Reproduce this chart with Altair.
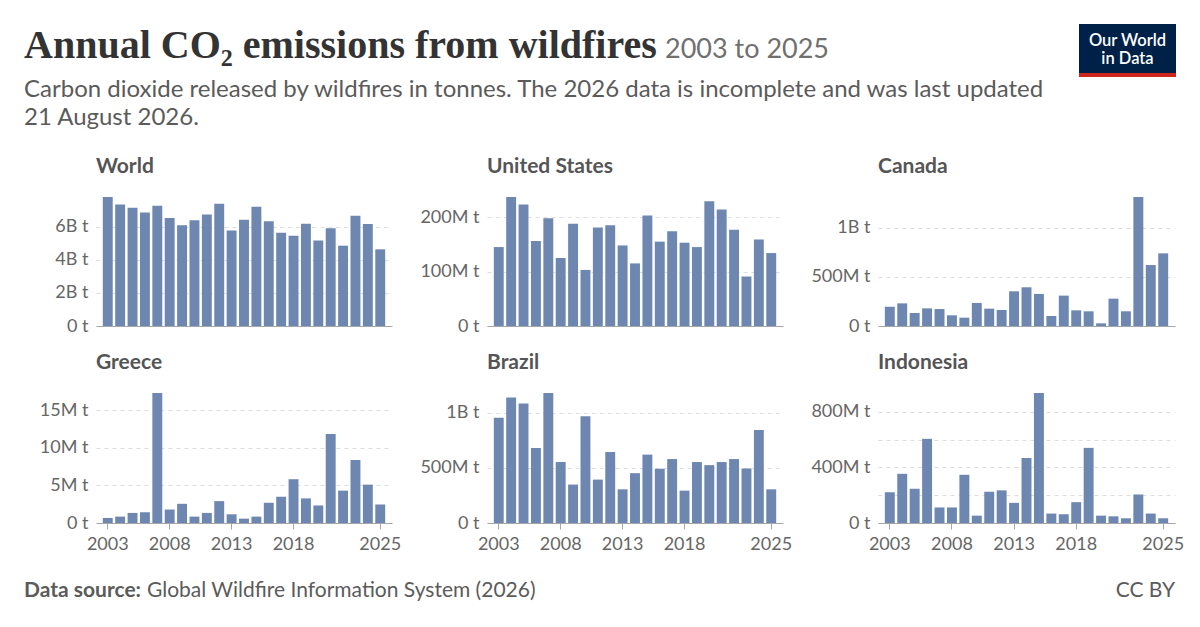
import altair as alt
import pandas as pd

years = list(range(2003, 2026))
tick_years = [2003, 2008, 2013, 2018, 2025]

world_bt = [7.79, 7.34, 7.14, 6.86, 7.26, 6.52, 6.08, 6.38, 6.74, 7.38, 5.77, 6.42,
            7.20, 6.32, 5.63, 5.45, 6.18, 5.17, 5.90, 4.85, 6.66, 6.16, 4.63]
us_mt = [145, 237, 223, 156, 198, 125, 188, 103, 181, 185, 148, 115, 203, 155, 174,
         153, 145, 229, 214, 177, 91, 159, 134]
canada_mt = [197, 231, 133, 180, 173, 109, 85, 235, 177, 163, 354, 395, 327, 102, 310,
             160, 150, 27, 279, 150, 1316, 622, 741]
greece_mt = [0.67, 0.85, 1.34, 1.43, 17.28, 1.79, 2.55, 0.85, 1.34, 2.91, 1.16, 0.58,
             0.85, 2.69, 3.49, 5.82, 3.27, 2.33, 11.82, 4.30, 8.37, 5.10, 2.46]
brazil_mt = [954, 1137, 1082, 680, 1177, 552, 348, 966, 393, 643, 305, 451, 619, 491,
             579, 293, 552, 524, 552, 579, 494, 841, 305]
indonesia_mt = [221, 354, 247, 606, 112, 112, 347, 53, 225, 235, 145, 468, 936, 68, 63,
                150, 541, 53, 48, 34, 206, 68, 34]

countries = ["World", "United States", "Canada", "Greece", "Brazil", "Indonesia"]
series = [
    [v * 1e9 for v in world_bt],
    [v * 1e6 for v in us_mt],
    [v * 1e6 for v in canada_mt],
    [v * 1e6 for v in greece_mt],
    [v * 1e6 for v in brazil_mt],
    [v * 1e6 for v in indonesia_mt],
]
grid_ticks = [
    [0, 2e9, 4e9, 6e9],
    [0, 1e8, 2e8],
    [0, 5e8, 1e9],
    [0, 5e6, 1e7, 1.5e7],
    [0, 5e8, 1e9],
    [0, 2e8, 4e8, 6e8, 8e8],
]
label_ticks = [
    [0, 2e9, 4e9, 6e9],
    [0, 1e8, 2e8],
    [0, 5e8, 1e9],
    [0, 5e6, 1e7, 1.5e7],
    [0, 5e8, 1e9],
    [0, 4e8, 8e8],
]

title_text = "Annual CO\u2082 emissions from wildfires"
title_range = "2003 to 2025"
subtitle_1 = "Carbon dioxide released by wildfires in tonnes. The 2026 data is incomplete and was last updated"
subtitle_2 = "21 August 2026."
source_bold = "Data source:"
source_text = "Global Wildfire Information System (2026)"
license_text = "CC BY"
logo_1 = "Our World"
logo_2 = "in Data"

BAR = "#6d87b1"
AXIS_GREY = "#a6a6a6"
TEXT_GREY = "#666666"
SUB_GREY = "#5b5b5b"

one = pd.DataFrame({"k": [0]})


def txt(text, x, y, size, color, font="Lato", weight="normal", align="left"):
    return alt.Chart(one).mark_text(
        fontSize=size, color=color, font=font, fontWeight=weight, align=align,
        baseline="alphabetic"
    ).encode(x=alt.value(x), y=alt.value(y), text=alt.value(text))


def box(x, x2, y, y2, color):
    return alt.Chart(one).mark_rect(color=color).encode(
        x=alt.value(x), x2=alt.value(x2), y=alt.value(y), y2=alt.value(y2))


# Page furniture, placed relative to the panel it is layered onto
extras = {
    0: [  # World panel (plot origin at page 96,197)
        box(-88, -87, -189, -188, "#ffffff"),
        txt(title_text, -72, -139, 40, "#333333", font="Liberation Serif", weight="bold"),
        txt(title_range, 569, -139, 27, "#707070"),
        txt(subtitle_1, -72, -100, 24, SUB_GREY),
        txt(subtitle_2, -72, -72, 24, SUB_GREY),
    ],
    2: [  # Canada panel (plot origin at page 878,197)
        box(201, 298, -173, -124, "#002147"),
        box(201, 298, -124, -120, "#ce261e"),
        txt(logo_1, 249.5, -151, 16.5, "#ffffff", weight=600, align="center"),
        txt(logo_2, 249.5, -133, 16.5, "#ffffff", weight=600, align="center"),
    ],
    3: [  # Greece panel (plot origin at page 96,393)
        txt(source_bold, -72, 204, 21, SUB_GREY, weight="bold"),
        txt(source_text, 51, 204, 21, SUB_GREY),
    ],
    5: [  # Indonesia panel (plot origin at page 878,393)
        txt(license_text, 297, 204, 21, SUB_GREY, align="right"),
    ],
}

widths = [296, 296, 297]
heights = [129, 130]

charts = []
for i, (name, vals, gv, lv) in enumerate(zip(countries, series, grid_ticks, label_ticks)):
    d = pd.DataFrame({"year": years, "co2": vals})
    bottom = i >= 3
    lab = "[" + ",".join(str(int(v)) for v in lv) + "]"
    expr = (f"indexof({lab}, datum.value) < 0 ? '' : datum.value == 0 ? '0 t' : "
            "datum.value >= 1000000000 ? format(datum.value / 1000000000, '~g') + 'B t' : "
            "format(datum.value / 1000000, '~g') + 'M t'")
    if bottom:
        xax = alt.Axis(values=tick_years, labelAngle=0, labelFontSize=18,
                       labelColor=TEXT_GREY, labelPadding=6, tickSize=6,
                       tickColor=AXIS_GREY, domainColor=AXIS_GREY, grid=False)
    else:
        xax = alt.Axis(labels=False, ticks=False, domainColor=AXIS_GREY, grid=False)
    yax = alt.Axis(values=[int(v) for v in gv], labelExpr=expr, labelFontSize=18,
                   labelColor=TEXT_GREY, labelPadding=8, ticks=False, domain=False,
                   gridColor="#dddddd", gridDash=[4, 4])
    bars = (
        alt.Chart(d)
        .mark_bar(color=BAR)
        .encode(
            x=alt.X("year:O", title=None,
                    scale=alt.Scale(paddingInner=0.2, paddingOuter=0.55), axis=xax),
            y=alt.Y("co2:Q", title=None,
                    scale=alt.Scale(domain=[0, max(vals)], nice=False), axis=yax),
        )
    )
    name_label = txt(name, 0, -24, 21, "#555555", weight="bold")
    c = alt.layer(bars, name_label, *extras.get(i, [])).properties(
        width=widths[i % 3], height=heights[i // 3])
    charts.append(c)

chart = (
    alt.concat(*charts, columns=3, spacing={"row": 67, "column": 95},
               bounds="flush", align="each")
    .properties(padding=0)
    .configure(font="Lato")
    .configure_view(strokeWidth=0)
)

chart.save("out.html", embed_options={"renderer": "svg", "actions": False})
